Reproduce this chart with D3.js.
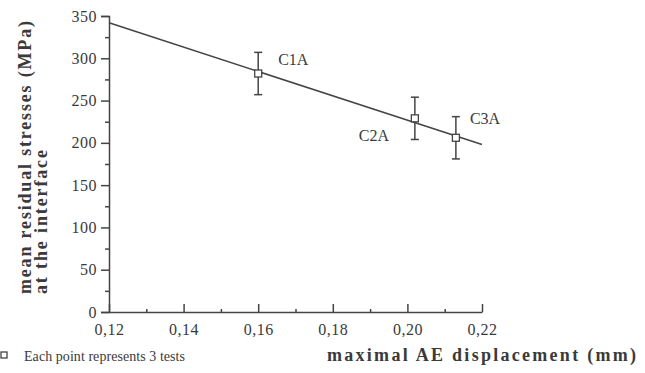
<!DOCTYPE html>
<html><head><meta charset="utf-8">
<script src="https://cdn.jsdelivr.net/npm/d3@7"></script>
<style>body{margin:0;background:#fff}svg{display:block}svg text{font-family:'Liberation Serif','Times New Roman',serif}</style>
</head><body><svg id="c" width="645" height="373"></svg>
<script>
const labels = ["C1A", "C2A", "C3A"];
const xValues = [0.160, 0.202, 0.213];
const yValues = [282, 229, 206];
const yErrors = [25, 25, 25];
const fitX = [0.12, 0.22];
const fitY = [342, 198];
const xTicks = [0.12, 0.14, 0.16, 0.18, 0.20, 0.22];
const yTicks = [0, 50, 100, 150, 200, 250, 300, 350];

const svg = d3.select("#c");
const ink = "#3a3a3a";
const x = d3.scaleLinear().domain([0.12, 0.22]).range([109, 482]);
const y = d3.scaleLinear().domain([0, 350]).range([312, 16]);
const serif = "'Liberation Serif', 'Times New Roman', serif";

// Y axis
svg.append("g").attr("transform", "translate(109,0)")
  .call(d3.axisLeft(y).tickValues(yTicks).tickSize(8).tickPadding(4).tickFormat(d3.format("d")));
svg.append("g").attr("transform", "translate(109,0)")
  .call(d3.axisLeft(y).tickValues(d3.range(25, 350, 50)).tickSize(4).tickFormat(""))
  .select(".domain").remove();
// X axis
svg.append("g").attr("transform", "translate(0,312)")
  .call(d3.axisBottom(x).tickValues(xTicks).tickSizeInner(-8).tickSizeOuter(0).tickPadding(12)
    .tickFormat(d => d3.format(".2f")(d).replace(".", ",")));
svg.append("g").attr("transform", "translate(0,312)")
  .call(d3.axisBottom(x).tickValues([0.13, 0.15, 0.17, 0.19, 0.21]).tickSizeInner(-3).tickSizeOuter(0).tickFormat(""))
  .select(".domain").remove();
svg.selectAll("g").attr("font-family", null);
svg.selectAll(".tick line, .domain").attr("stroke", "#444").attr("stroke-width", 1.5);
svg.selectAll(".tick text").style("font-family", serif).attr("font-size", 16)
  .style("letter-spacing", "0.5px").attr("fill", ink);

// Fit line
svg.append("path")
  .datum(fitX.map((d, i) => [d, fitY[i]]))
  .attr("d", d3.line().x(d => x(d[0])).y(d => y(d[1])))
  .attr("fill", "none").attr("stroke", "#444").attr("stroke-width", 1.5);

// Error bars & markers
const pts = svg.append("g").selectAll("g").data(labels.map((l, i) => ({l, x: xValues[i], y: yValues[i], e: yErrors[i]})))
  .join("g");
pts.append("line").attr("x1", d => x(d.x)).attr("x2", d => x(d.x))
  .attr("y1", d => y(d.y + d.e)).attr("y2", d => y(d.y - d.e)).attr("stroke", "#444").attr("stroke-width", 1.5);
pts.append("line").attr("x1", d => x(d.x) - 4).attr("x2", d => x(d.x) + 4)
  .attr("y1", d => y(d.y + d.e)).attr("y2", d => y(d.y + d.e)).attr("stroke", "#444").attr("stroke-width", 1.5);
pts.append("line").attr("x1", d => x(d.x) - 4).attr("x2", d => x(d.x) + 4)
  .attr("y1", d => y(d.y - d.e)).attr("y2", d => y(d.y - d.e)).attr("stroke", "#444").attr("stroke-width", 1.5);
pts.append("rect").attr("x", d => x(d.x) - 3.5).attr("y", d => y(d.y) - 3.5)
  .attr("width", 7).attr("height", 7).attr("fill", "#fff").attr("stroke", "#444").attr("stroke-width", 1.3);

// Point labels
const labelOffsets = [[20, -14], [-56, 17], [14, -19]];
pts.append("text")
  .attr("x", (d, i) => x(d.x) + labelOffsets[i][0])
  .attr("y", (d, i) => y(d.y) + labelOffsets[i][1])
  .attr("dy", "0.35em")
  .style("font-family", serif).attr("font-size", 16).attr("fill", ink)
  .text(d => d.l);

// Y title
const yt = svg.append("text").attr("transform", "translate(31,294) rotate(-90)")
  .style("font-family", serif).attr("font-size", 18).attr("font-weight", "bold").attr("fill", ink);
yt.append("tspan").attr("x", 0).attr("y", 0).attr("textLength", 273).attr("lengthAdjust", "spacing")
  .text("mean residual stresses (MPa)");
yt.append("tspan").attr("x", 0).attr("y", 16).attr("textLength", 144).attr("lengthAdjust", "spacing")
  .text("at the interface");

// X title
svg.append("text").attr("x", 327).attr("y", 361)
  .style("font-family", serif).attr("font-size", 18).attr("font-weight", "bold").attr("fill", ink)
  .attr("textLength", 309).attr("lengthAdjust", "spacing")
  .text("maximal AE displacement (mm)");

// Footnote
svg.append("rect").attr("x", 1).attr("y", 352).attr("width", 6).attr("height", 6)
  .attr("fill", "#fff").attr("stroke", "#444").attr("stroke-width", 1.3);
svg.append("text").attr("x", 24).attr("y", 361)
  .style("font-family", serif).attr("font-size", 14).attr("fill", ink)
  .attr("textLength", 161).attr("lengthAdjust", "spacing")
  .text("Each point represents 3 tests");
</script></body></html>
